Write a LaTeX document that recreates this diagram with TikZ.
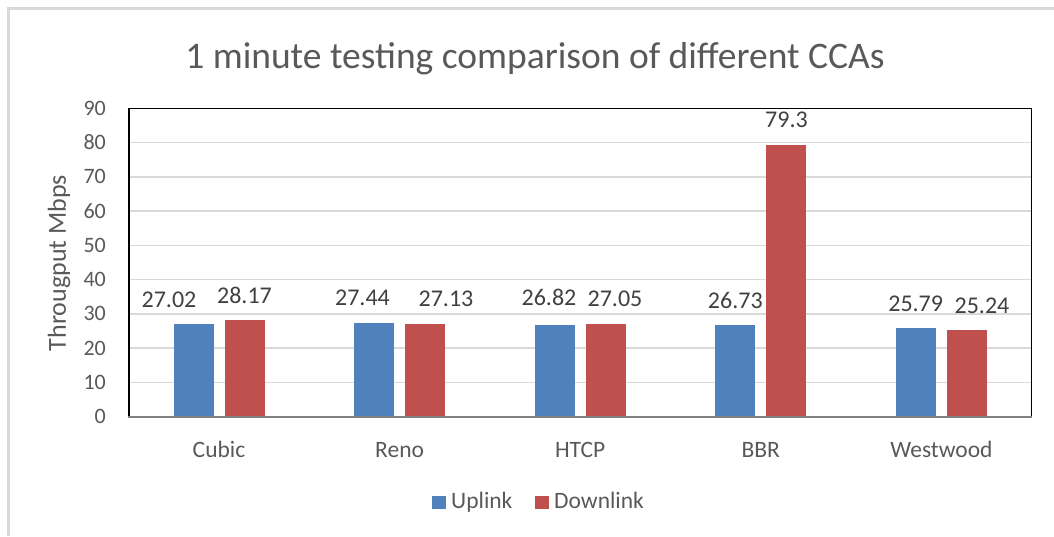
\documentclass[tikz,border=0pt]{standalone}
\usepackage{fontspec}
\setmainfont{Carlito}
\definecolor{upc}{HTML}{4F81BD}
\definecolor{downc}{HTML}{C0504D}
\definecolor{gridc}{HTML}{D9D9D9}
\definecolor{framec}{HTML}{D9D9D9}
\definecolor{axtxt}{HTML}{595959}
\definecolor{lbltxt}{HTML}{404040}
\tikzset{
  titletxt/.style={text=axtxt, font=\fontsize{37.5}{44}\selectfont, inner sep=0pt},
  ticktxt/.style={text=axtxt, font=\fontsize{22}{26}\selectfont, inner sep=0pt, anchor=east},
  cattxt/.style={text=axtxt, font=\fontsize{23.5}{28}\selectfont, inner sep=0pt, anchor=base},
  datatxt/.style={text=lbltxt, font=\fontsize{24}{28}\selectfont, inner sep=0pt, anchor=base},
  legtxt/.style={text=axtxt, font=\fontsize{23.5}{28}\selectfont, inner sep=0pt, anchor=base west},
  gridline/.style={gridc, line width=1.5pt},
  upbar/.style={fill=upc},
  downbar/.style={fill=downc},
}
\begin{document}
\begin{tikzpicture}[x=1pt,y=-1pt]
\useasboundingbox (0,0) rectangle (1054,536);
% outer chart frame
\draw[framec, line width=2.2pt] (8.5,536) -- (8.5,8.5) -- (1054,8.5);
% title
\node[titletxt, anchor=base] (title) at (535,68) {1 minute testing comparison of different CCAs};
% gridlines
\foreach \v in {10,20,...,80} {
  \draw[gridline] (128.7,{416.7-3.427*\v}) -- (1031.5,{416.7-3.427*\v});
}
% tick labels
\foreach \v in {0,10,...,90} {
  \node[ticktxt] (tick\v) at (106,{416.7-3.427*\v}) {\v};
}
% bars
\foreach \i/\u/\d in {0/27.02/28.17,1/27.44/27.13,2/26.82/27.05,3/26.73/79.3,4/25.79/25.24} {
  \pgfmathsetmacro{\c}{128.7+180.6*(\i+0.5)}
  \fill[upbar] ({\c-45.5},416.7) rectangle ({\c-5.5},{416.7-3.427*\u});
  \fill[downbar] ({\c+5.5},416.7) rectangle ({\c+45.5},{416.7-3.427*\d});
}
% plot frame
\draw[black, line width=1.6pt] (128.7,416.7) -- (128.7,108.3) -- (1031.5,108.3) -- (1031.5,416.7);
\draw[black!50, line width=1.6pt] (127.9,416.7) -- (1032.3,416.7);
% data labels
\node[datatxt] (l1) at (169,307) {27.02};
\node[datatxt] (l2) at (244.5,303.5) {28.17};
\node[datatxt] (l3) at (362.5,305) {27.44};
\node[datatxt] (l4) at (446,306) {27.13};
\node[datatxt] (l5) at (549,305) {26.82};
\node[datatxt] (l6) at (615,306.5) {27.05};
\node[datatxt] (l7) at (735.3,308) {26.73};
\node[datatxt] (l8) at (786.5,127) {79.3};
\node[datatxt] (l9) at (915.7,311.5) {25.79};
\node[datatxt] (l10) at (982,313) {25.24};
% category labels
\node[cattxt] (c1) at (219,457) {Cubic};
\node[cattxt] (c2) at (399.6,457) {Reno};
\node[cattxt] (c3) at (580.2,457) {HTCP};
\node[cattxt] (c4) at (760.8,457) {BBR};
\node[cattxt] (c5) at (941.4,457) {Westwood};
% axis title
\node[text=axtxt, font=\fontsize{26}{30}\selectfont, inner sep=0pt, rotate=90] (ytitle) at (59,263) {Througput Mbps};
% legend
\fill[upbar] (432,495.5) rectangle (446,509);
\node[legtxt] (leg1) at (451,508) {Uplink};
\fill[downbar] (535,495.5) rectangle (549,509);
\node[legtxt] (leg2) at (554,508) {Downlink};
\end{tikzpicture}
\end{document}
